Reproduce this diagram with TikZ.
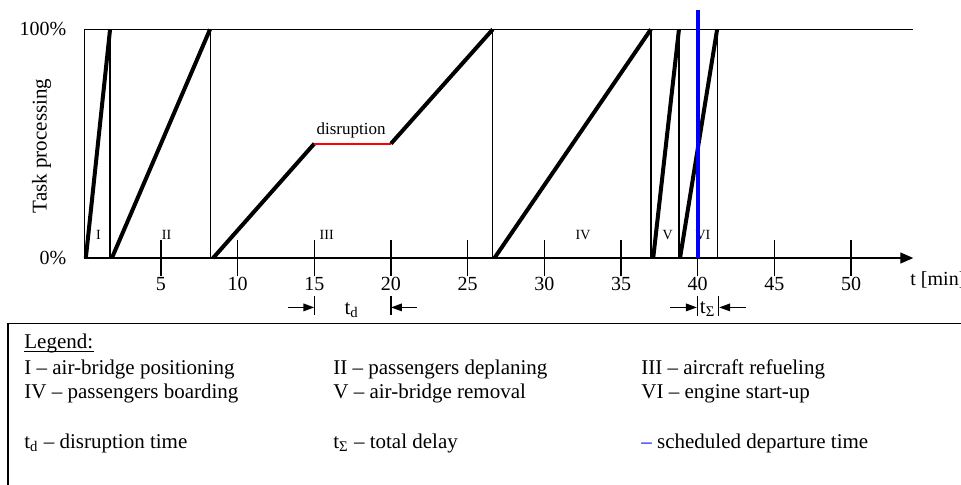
\documentclass[tikz,border=0pt]{standalone}
\usepackage{fontspec}
\setmainfont{Liberation Serif}
\usetikzlibrary{arrows.meta}
\begin{document}
\begin{tikzpicture}[x=7.667pt,y=1.1435pt,
  frame/.style={line width=0.6pt},
  axisline/.style={line width=0.7pt},
  task/.style={line width=2pt},
  disrupt/.style={line width=1pt, red},
  sched/.style={line width=2pt, blue},
  numlabel/.style={anchor=base, font=\fontsize{10}{12}\selectfont, inner sep=0pt},
  phaselabel/.style={anchor=base, font=\fontsize{7}{8.4}\selectfont, inner sep=0pt},
  legendtext/.style={anchor=base west, font=\fontsize{10.5}{12.6}\selectfont, inner sep=0pt},
  dimarrow/.style={line width=0.8pt, -{Triangle[length=5.5pt,width=3.8pt]}},
  dimbar/.style={line width=0.6pt}
]
\useasboundingbox (-42.15pt,-113pt) rectangle (438.35pt,129pt);
\clip (-42.15pt,-113pt) rectangle (438.35pt,129pt);

% frame of the chart
\coordinate (O) at (0,0);
\coordinate (T) at (0,100);
\coordinate (TR) at (54.06,100);
\coordinate (AR) at (54.06,0);
\draw[frame] (O) -- (T) -- (TR);
\draw[axisline, -{Triangle[length=6.5pt,width=5.5pt]}] (O) -- (AR);

% ticks and numbers
\foreach \t in {5,10,...,50} {
  \draw[axisline] (\t,-8) -- (\t,8);
  \node[numlabel] (n\t) at (\t,-14) {\t};
}
\node[anchor=base west, font=\fontsize{10}{12}\selectfont, inner sep=0pt] (tlab) at (53.85,-12) {t [min]};
\node[anchor=east, font=\fontsize{10}{12}\selectfont, inner sep=0pt] (p100) at (-1.15,100) {100\%};
\node[anchor=east, font=\fontsize{10}{12}\selectfont, inner sep=0pt] (p0) at (-1.15,0) {0\%};
\node[rotate=90, font=\fontsize{10.5}{12.6}\selectfont, inner sep=0pt] (ylab) at (-2.78,49) {Task processing};

% phase boundaries
\foreach \b in {1.68,8.24,26.64,36.95,38.78,41.27} {
  \draw[frame] (\b,0) -- (\b,100);
}

% task progress lines
\draw[task] (0.1,0) -- (1.68,100);
\draw[task] (1.8,0) -- (8.2,100);
\draw[task] (8.4,0) -- (15,50);
\draw[disrupt] (15,50) -- (20,50);
\draw[task] (20,50) -- (26.64,100);
\draw[task] (26.75,0) -- (36.95,100);
\draw[task] (37.1,0) -- (38.78,100);
\draw[task] (38.85,0) -- (41.27,100);

\node[anchor=base, font=\fontsize{8.5}{10}\selectfont, inner sep=0pt] (dis) at (17.4,53.8) {disruption};

% phase labels
\node[phaselabel] (ph1) at (0.92,8) {I};
\node[phaselabel] (ph2) at (5.37,8) {II};
\node[phaselabel] (ph3) at (15.81,8) {III};
\node[phaselabel] (ph4) at (32.53,8) {IV};
\node[phaselabel] (ph5) at (38.05,8) {V};
\node[phaselabel] (ph6) at (40.34,8) {VI};

% scheduled departure
\draw[sched] (40,0) -- (40,108.4);

% t_d dimension
\draw[dimbar] (15,-16.6) -- (15,-24.9);
\draw[dimbar] (20,-16.6) -- (20,-24.9);
\coordinate (tdl) at (13.29,-21.6);
\coordinate (tdla) at (15,-21.6);
\coordinate (tdr) at (21.68,-21.6);
\coordinate (tdra) at (20,-21.6);
\draw[dimarrow] (tdl) -- (tdla);
\draw[dimarrow] (tdr) -- (tdra);
\node[anchor=base, font=\fontsize{10.5}{12.6}\selectfont, inner sep=0pt] (td) at (17.44,-24.6) {t\textsubscript{d}};

% t_Sigma dimension
\draw[dimbar] (40,-16.6) -- (40,-25.5);
\draw[dimbar] (41.35,-16.6) -- (41.35,-25.5);
\coordinate (tsl) at (38.2,-21.6);
\coordinate (tsla) at (39.95,-21.6);
\coordinate (tsr) at (43.17,-21.6);
\coordinate (tsra) at (41.4,-21.6);
\draw[dimarrow] (tsl) -- (tsla);
\draw[dimarrow] (tsr) -- (tsra);
\node[anchor=base, font=\fontsize{10.5}{12.6}\selectfont, inner sep=0pt] (ts) at (40.65,-24.2) {t\textsubscript{Σ}};

% legend box
\draw[line width=0.8pt] (-38.15pt,-130pt) -- (-38.15pt,-32.65pt) -- (450pt,-32.65pt);

\node[legendtext] (leg) at (-30.15pt,-45.15pt) {Legend:};
\draw[line width=0.5pt] ([yshift=-1.6pt]leg.base west) -- ([yshift=-1.6pt]leg.base east);
\node[legendtext] (l1) at (-30.15pt,-58.35pt) {I – air-bridge positioning};
\node[legendtext] (l2) at (124.35pt,-58.35pt) {II – passengers deplaning};
\node[legendtext] (l3) at (278.35pt,-58.35pt) {III – aircraft refueling};
\node[legendtext] (l4) at (-30.15pt,-70pt) {IV – passengers boarding};
\node[legendtext] (l5) at (124.35pt,-70pt) {V – air-bridge removal};
\node[legendtext] (l6) at (278.35pt,-70pt) {VI – engine start-up};
\node[legendtext] (l7) at (-30.15pt,-95.15pt) {t\textsubscript{d} – disruption time};
\node[legendtext] (l8) at (124.35pt,-95.15pt) {t\textsubscript{Σ} – total delay};
\node[legendtext] (l9) at (278.35pt,-95.15pt) {{\color{blue}–} scheduled departure time};
\end{tikzpicture}
\end{document}
